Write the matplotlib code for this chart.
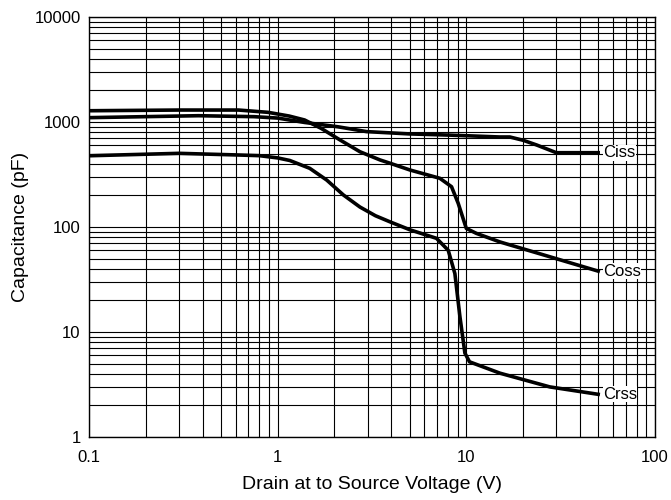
import matplotlib
matplotlib.use("Agg")
import matplotlib.pyplot as plt
from matplotlib.ticker import LogLocator, NullFormatter, FixedLocator, FixedFormatter

plt.rcParams['font.family'] = ['Liberation Sans', 'DejaVu Sans']

# values (V, pF)
ciss_v = [0.1, 0.38, 0.75, 1.0, 1.39, 2.09, 2.96, 5.0, 8.2, 15, 17, 20, 23.6, 30, 50]
ciss_c = [1100, 1148, 1124, 1090, 990, 900, 810, 770, 750, 720, 720, 670, 604, 510, 510]

coss_v = [0.1, 0.3, 0.62, 0.89, 1.15, 1.39, 1.7, 2.14, 2.73, 3.49, 3.94, 5.03, 7.24, 8.35, 9.06, 10.0, 11.3, 15.1, 50]
coss_c = [1280, 1300, 1300, 1236, 1140, 1045, 870, 675, 521, 435, 405, 349, 291, 242, 168, 97, 87, 72, 38]

crss_v = [0.1, 0.3, 0.62, 0.8, 1.0, 1.16, 1.48, 1.82, 2.23, 2.73, 3.3, 3.94, 5.03, 6.95, 8.02, 8.7, 9.25, 9.83, 10.4, 15.1, 27.7, 50]
crss_c = [477, 503, 485, 478, 455, 430, 362, 280, 202, 155, 128, 112, 94, 78, 60, 36, 14, 6.3, 5.2, 4.05, 3.0, 2.55]

x_ticks = [0.1, 1, 10, 100]
x_labels = ["0.1", "1", "10", "100"]
y_ticks = [1, 10, 100, 1000, 10000]
y_labels = ["1", "10", "100", "1000", "10000"]

fig = plt.figure(figsize=(6.71, 5.0), dpi=100)
ax = fig.add_axes([0.1326, 0.126, 0.8435, 0.840])

for v, c, name in [(ciss_v, ciss_c, "Ciss"), (coss_v, coss_c, "Coss"), (crss_v, crss_c, "Crss")]:
    ax.plot(v, c, color="black", lw=2.6, zorder=3, solid_joinstyle="round")
    ax.text(v[-1] * 1.06, c[-1], name, fontsize=12, va="center", ha="left", zorder=4,
            bbox=dict(facecolor="white", edgecolor="none", pad=0.3))

ax.set_xscale("log")
ax.set_yscale("log")
ax.set_xlim(0.1, 100)
ax.set_ylim(1, 10000)

ax.xaxis.set_major_locator(FixedLocator(x_ticks))
ax.xaxis.set_major_formatter(FixedFormatter(x_labels))
ax.yaxis.set_major_locator(FixedLocator(y_ticks))
ax.yaxis.set_major_formatter(FixedFormatter(y_labels))
ax.xaxis.set_minor_locator(LogLocator(base=10, subs=range(2, 10)))
ax.yaxis.set_minor_locator(LogLocator(base=10, subs=range(2, 10)))
ax.xaxis.set_minor_formatter(NullFormatter())
ax.yaxis.set_minor_formatter(NullFormatter())

ax.grid(True, which="both", color="black", lw=0.8)
ax.tick_params(which="both", length=0, labelsize=12)
ax.tick_params(axis="x", pad=9)
ax.tick_params(axis="y", pad=6)
for s in ax.spines.values():
    s.set_linewidth(1.0)

ax.set_xlabel("Drain at to Source Voltage (V)", fontsize=14, labelpad=8)
ax.set_ylabel("Capacitance (pF)", fontsize=14, labelpad=4)

fig.savefig("out.png", dpi=100)
